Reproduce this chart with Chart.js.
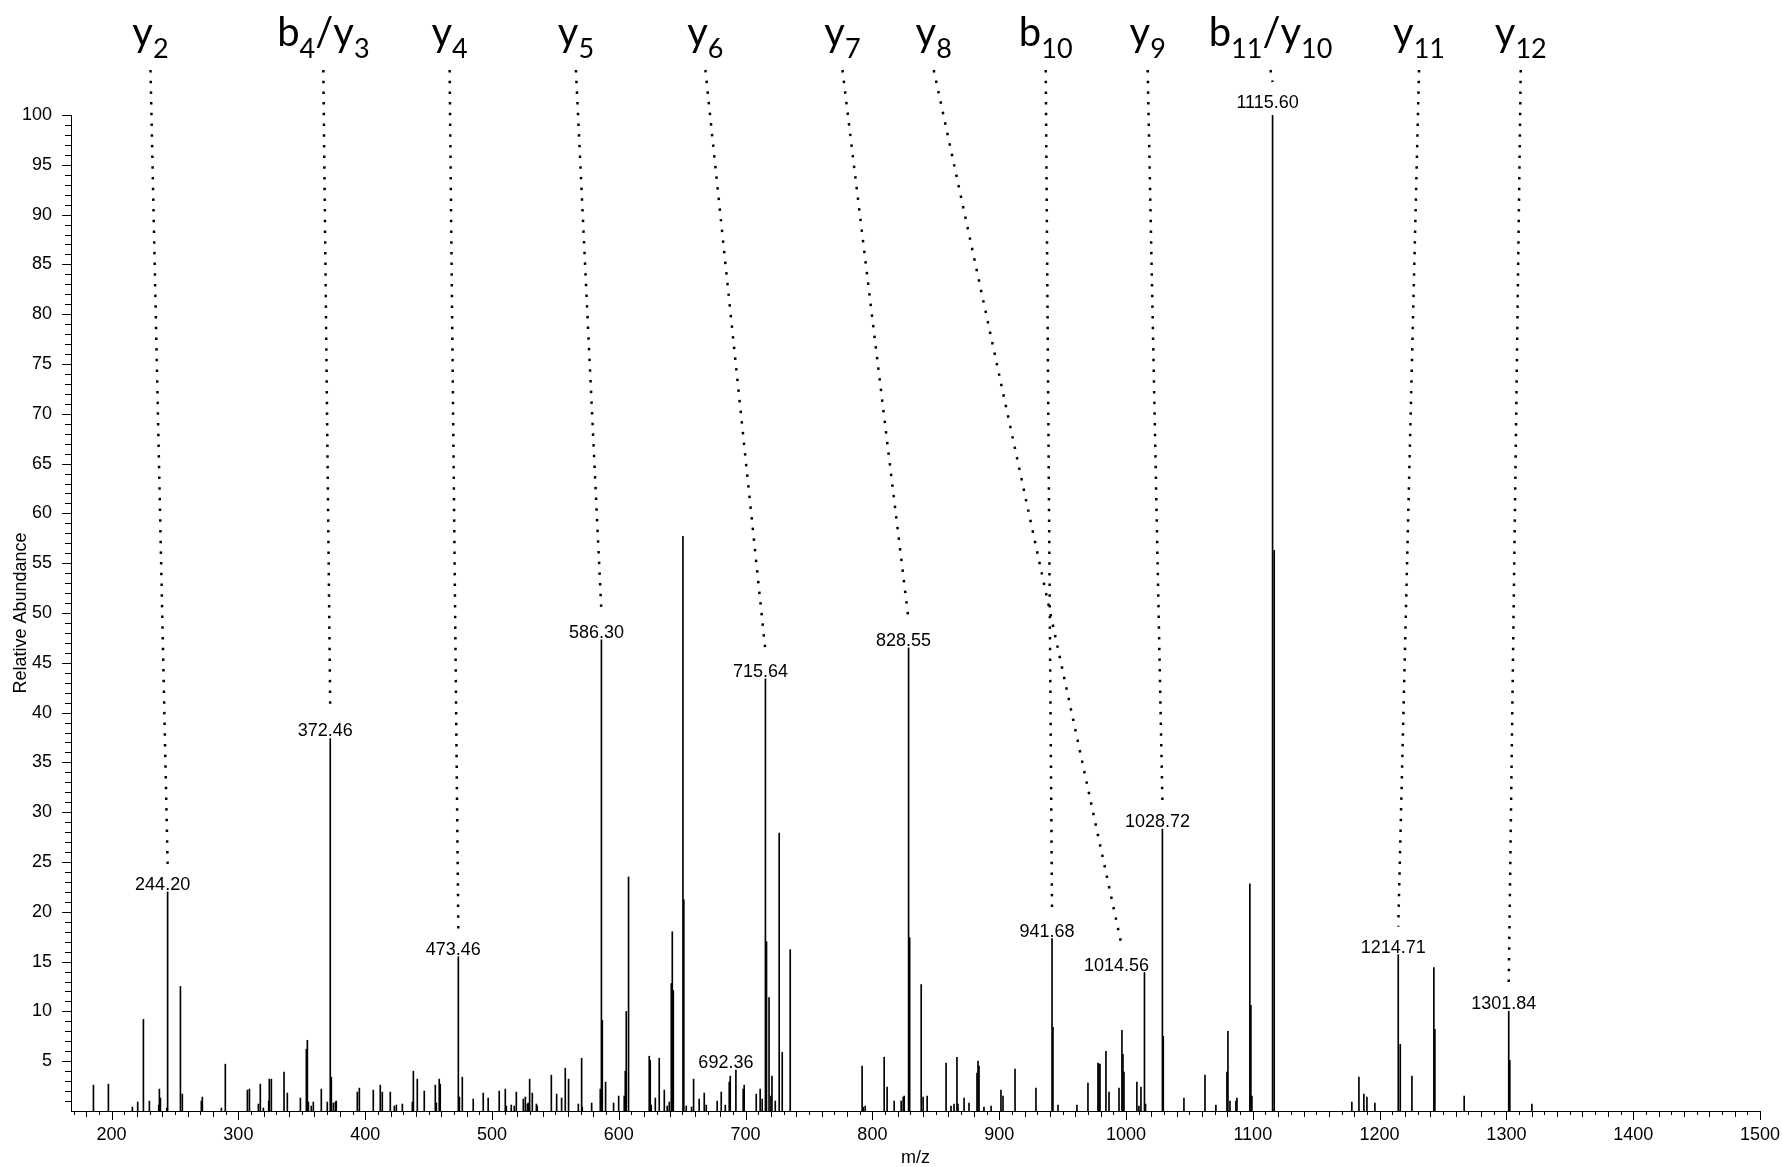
<!DOCTYPE html>
<html lang="en">
<head>
<meta charset="UTF-8">
<title>MS/MS spectrum 1115.60</title>
<style>
    html, body { margin: 0; padding: 0; background: #fff; }
    canvas { display: block; }
</style>
<script src="https://cdn.jsdelivr.net/npm/chart.js@4.4.1/dist/chart.umd.min.js"></script>
</head>
<body>
<canvas id="spectrum" width="1782" height="1167"></canvas>
<script>
// centroid peaks: m/z and relative abundance (%)
const mzValues = [
    185.7, 197.5, 216.4, 220.6, 225.1, 229.8, 237.2, 237.7, 238.5, 243.5, 244.20, 254.3, 255.8, 270.8, 271.6, 286.6, 289.7,
    307.1, 308.7, 315.8, 317.3, 319.7, 323.9, 324.4, 326.0, 336.0, 338.6, 348.9, 353.6, 354.4, 355.2, 357.5, 359.1, 365.4, 370.1, 372.46, 373.3, 374.9, 376.5, 377.2, 393.8, 395.4,
    406.4, 411.9, 413.5, 419.8, 423.0, 424.6, 429.3, 437.2, 438.0, 441.1, 446.6, 455.3, 456.1, 458.4, 459.2, 473.46, 474.3, 476.6, 485.2, 493.1, 497.0,
    505.7, 510.5, 511.3, 515.2, 517.6, 519.2, 524.7, 526.3, 527.9, 528.6, 529.7, 531.8, 535.0, 535.7, 546.8, 551.0, 554.9, 557.8, 560.4, 568.1, 570.7, 571.2, 578.6, 585.4, 586.30, 587.0, 589.6, 595.9, 599.9,
    604.3, 605.1, 605.9, 607.7, 624.0, 624.8, 625.6, 628.8, 631.9, 635.9, 638.2, 639.8, 641.4, 642.2, 643.0, 650.6, 651.3, 653.2, 657.4, 659.0, 663.4, 667.4, 669.0, 677.6, 680.8, 684.0, 687.1, 687.9, 692.36, 698.1, 698.9,
    708.4, 711.5, 713.1, 715.64, 716.5, 718.5, 720.0, 720.8, 723.4, 726.5, 728.9, 735.2, 791.9, 792.7, 794.3,
    809.3, 811.6, 817.2, 822.7, 824.3, 825.1, 828.55, 829.4, 838.5, 840.0, 843.2, 858.1, 862.0, 864.4, 866.7, 867.5, 872.3, 876.2, 882.5, 883.3, 884.1, 888.0, 893.6,
    901.4, 903.0, 912.5, 929.0, 941.68, 942.4, 946.4, 961.3, 970.0, 977.9, 978.7, 979.5, 984.2, 986.6, 994.5, 996.8, 997.6, 998.4,
    1008.6, 1010.2, 1011.8, 1014.56, 1015.4, 1028.72, 1029.4, 1045.7, 1062.3, 1070.9, 1079.6, 1080.4, 1082.0, 1086.7, 1087.5, 1097.7, 1098.5, 1099.3,
    1115.60, 1116.9, 1178.1, 1183.7, 1187.6, 1190.0, 1196.3,
    1214.71, 1216.3, 1225.5, 1242.8, 1243.6, 1266.7, 1301.84, 1302.7, 1320.1
];
const abundance = [
    2.6, 2.7, 0.4, 0.9, 9.2, 1.0, 0.6, 2.2, 1.3, 0.3, 22.0, 12.5, 1.7, 1.0, 1.4, 0.3, 4.7,
    2.1, 2.2, 0.7, 2.7, 0.3, 1.0, 3.2, 3.2, 3.9, 1.8, 1.3, 6.2, 7.1, 0.9, 0.5, 0.9, 2.2, 0.9, 37.4, 3.4, 0.8, 0.9, 1.0, 1.9, 2.3,
    2.1, 2.6, 1.9, 1.9, 0.5, 0.6, 0.7, 0.9, 4.0, 3.2, 2.0, 2.6, 0.8, 3.2, 2.7, 15.5, 1.4, 3.4, 1.2, 1.8, 1.3,
    2.0, 2.2, 0.5, 0.6, 0.5, 1.9, 1.2, 1.4, 0.7, 0.8, 3.2, 1.8, 0.7, 0.5, 3.6, 1.7, 1.3, 4.3, 3.2, 0.7, 5.3, 0.4, 0.8, 2.2, 47.3, 9.1, 2.9, 0.8, 1.5,
    1.5, 4.0, 10.0, 23.5, 5.5, 5.1, 0.6, 1.3, 5.3, 2.1, 0.5, 0.9, 12.8, 18.0, 12.1, 57.7, 21.2, 0.5, 0.4, 3.2, 1.2, 1.8, 0.6, 1.0, 1.9, 0.6, 2.9, 3.5, 4.1, 2.2, 2.6,
    1.7, 2.2, 1.2, 43.4, 17.0, 11.4, 1.5, 3.5, 1.0, 27.9, 5.9, 16.2, 4.5, 0.4, 0.5,
    5.4, 2.4, 1.0, 1.0, 1.4, 1.5, 46.5, 17.4, 12.7, 1.4, 1.5, 4.8, 0.5, 0.7, 5.4, 0.7, 1.3, 0.8, 3.8, 5.0, 4.5, 0.4, 0.5,
    2.1, 1.5, 4.2, 2.3, 17.3, 8.4, 0.6, 0.6, 2.8, 4.8, 4.7, 4.7, 6.0, 1.9, 2.3, 8.1, 5.7, 3.9,
    2.9, 0.5, 2.4, 13.9, 0.7, 28.3, 7.5, 1.3, 3.6, 0.6, 3.9, 8.0, 1.0, 1.0, 1.3, 22.8, 10.6, 1.5,
    100, 56.3, 0.9, 3.4, 1.7, 1.4, 0.8,
    15.7, 6.7, 3.5, 14.4, 8.2, 1.5, 10.0, 5.1, 0.7
];

// peaks carrying an m/z label
const labeledMz = [244.20, 372.46, 473.46, 586.30, 692.36, 715.64, 828.55, 941.68, 1014.56, 1028.72, 1115.60, 1214.71, 1301.84];

// fragment ion assignments ("_n" = subscript), where their label sits and which peak it points to
const fragmentNames = ['y_2', 'b_4/y_3', 'y_4', 'y_5', 'y_6', 'y_7', 'y_8', 'b_10', 'y_9', 'b_11/y_10', 'y_11', 'y_12'];
const fragmentLabelMz = [230.7, 367.0, 466.6, 566.2, 668.3, 776.4, 848.4, 936.7, 1017.1, 1114.0, 1231.1, 1311.3];
const fragmentPeakMz = [244.20, 372.46, 473.46, 586.30, 715.64, 828.55, 1014.56, 941.68, 1028.72, 1115.60, 1214.71, 1301.84];

// axis ranges
const mzMin = 168, mzMax = 1500;
const abundanceMax = 100;

// labels shoved aside so they clear neighbouring lines (px)
const labelNudge = { '1014.56': [-28, 0], '692.36': [-10, 0], '1115.60': [0, -5] };
const DEFAULT_DX = -5;

function abundanceAt(mz) {
    const i = mzValues.findIndex(v => Math.abs(v - mz) < 0.001);
    return abundance[i];
}

function nudgeOf(txt) {
    const n = labelNudge[txt] || [DEFAULT_DX, 0];
    return { dx: n[0] || DEFAULT_DX, dy: n[1] };
}

const annotate = {
    id: 'annotate',
    afterDraw(chart) {
        const ctx = chart.ctx;
        const area = chart.chartArea;
        const x = chart.scales.x;
        const y = chart.scales.y;
        ctx.save();

        // tick marks, minor ones shorter
        ctx.strokeStyle = '#000';
        ctx.lineWidth = 1;
        ctx.beginPath();
        for (let v = 1; v <= y.max; v++) {
            const py = Math.round(y.getPixelForValue(v)) + 0.5;
            const len = v % 5 === 0 ? 9 : 6;
            ctx.moveTo(area.left - len, py);
            ctx.lineTo(area.left, py);
        }
        for (let v = Math.ceil(x.min / 10) * 10; v <= x.max; v += 10) {
            const px = Math.round(x.getPixelForValue(v)) + 0.5;
            const len = v % 100 === 0 ? 9 : (v % 20 === 0 ? 6 : 4);
            ctx.moveTo(px, area.bottom);
            ctx.lineTo(px, area.bottom + len);
        }
        ctx.stroke();

        // m/z labels on top of peaks
        ctx.font = '18px "Liberation Sans", Arial, sans-serif';
        ctx.fillStyle = '#000';
        ctx.textAlign = 'center';
        ctx.textBaseline = 'alphabetic';
        labeledMz.forEach(mz => {
            const txt = mz.toFixed(2);
            const n = nudgeOf(txt);
            const px = x.getPixelForValue(mz) + n.dx;
            const py = y.getPixelForValue(abundanceAt(mz));
            ctx.fillText(txt, px, py - 2 + n.dy);
        });

        // fragment names with dotted leaders
        const mainFont = '40px Lato, "Noto Sans", sans-serif';
        const subFont = '27px Lato, "Noto Sans", sans-serif';
        const baseY = 46;
        fragmentNames.forEach((name, i) => {
            const parts = name.split(/(_\d+)/).filter(Boolean);
            let w = 0;
            parts.forEach(p => {
                ctx.font = p[0] === '_' ? subFont : mainFont;
                w += ctx.measureText(p[0] === '_' ? p.slice(1) : p).width;
            });
            const cx = x.getPixelForValue(fragmentLabelMz[i]);
            let tx = cx - w / 2;
            ctx.textAlign = 'left';
            parts.forEach(p => {
                const sub = p[0] === '_';
                const t = sub ? p.slice(1) : p;
                ctx.font = sub ? subFont : mainFont;
                ctx.fillText(t, tx, sub ? baseY + 12 : baseY);
                tx += ctx.measureText(t).width;
            });

            const n = nudgeOf(fragmentPeakMz[i].toFixed(2));
            const ex = x.getPixelForValue(fragmentPeakMz[i]) + n.dx - DEFAULT_DX;
            const ey = y.getPixelForValue(abundanceAt(fragmentPeakMz[i])) - 28 + n.dy;
            ctx.beginPath();
            ctx.setLineDash([2.5, 8.2]);
            ctx.lineWidth = 2.5;
            ctx.moveTo(cx, 70);
            ctx.lineTo(ex, ey);
            ctx.stroke();
            ctx.setLineDash([]);
        });

        ctx.restore();
    }
};

Chart.defaults.font.family = '"Liberation Sans", Arial, sans-serif';
Chart.defaults.color = '#000';

new Chart(document.getElementById('spectrum'), {
    type: 'bar',
    data: {
        datasets: [{
            data: mzValues.map((mz, i) => ({ x: mz, y: abundance[i] })),
            backgroundColor: '#000',
            borderWidth: 0,
            barThickness: 1
        }]
    },
    options: {
        responsive: false,
        animation: false,
        devicePixelRatio: 1,
        layout: { padding: { top: 115, right: 22, left: 0, bottom: 0 } },
        plugins: {
            legend: { display: false },
            tooltip: { enabled: false }
        },
        scales: {
            x: {
                type: 'linear',
                min: mzMin,
                max: mzMax,
                offset: false,
                grid: { display: false, drawTicks: false, offset: false },
                border: { display: true, color: '#000', width: 1 },
                ticks: {
                    stepSize: 100,
                    includeBounds: false,
                    padding: 13,
                    maxRotation: 0,
                    autoSkip: false,
                    font: { size: 18 },
                    callback: v => (v % 100 === 0 ? String(v) : '')
                },
                title: {
                    display: true,
                    text: 'm/z',
                    font: { size: 18, lineHeight: 1 },
                    padding: { top: 0, bottom: 0 }
                },
                afterFit: s => {
                    s.height = 56;
                    s.paddingLeft = 0;
                    s.paddingRight = 0;
                }
            },
            y: {
                min: 0,
                max: abundanceMax,
                grid: { display: false, drawTicks: false },
                border: { display: true, color: '#000', width: 1 },
                ticks: {
                    stepSize: 5,
                    padding: 19,
                    font: { size: 18 },
                    callback: v => (v === 0 ? '' : String(v))
                },
                title: {
                    display: true,
                    text: 'Relative Abundance',
                    font: { size: 18 },
                    padding: { top: 10, bottom: 0 }
                },
                afterFit: s => { s.width = 71; }
            }
        }
    },
    plugins: [annotate]
});
</script>
</body>
</html>
